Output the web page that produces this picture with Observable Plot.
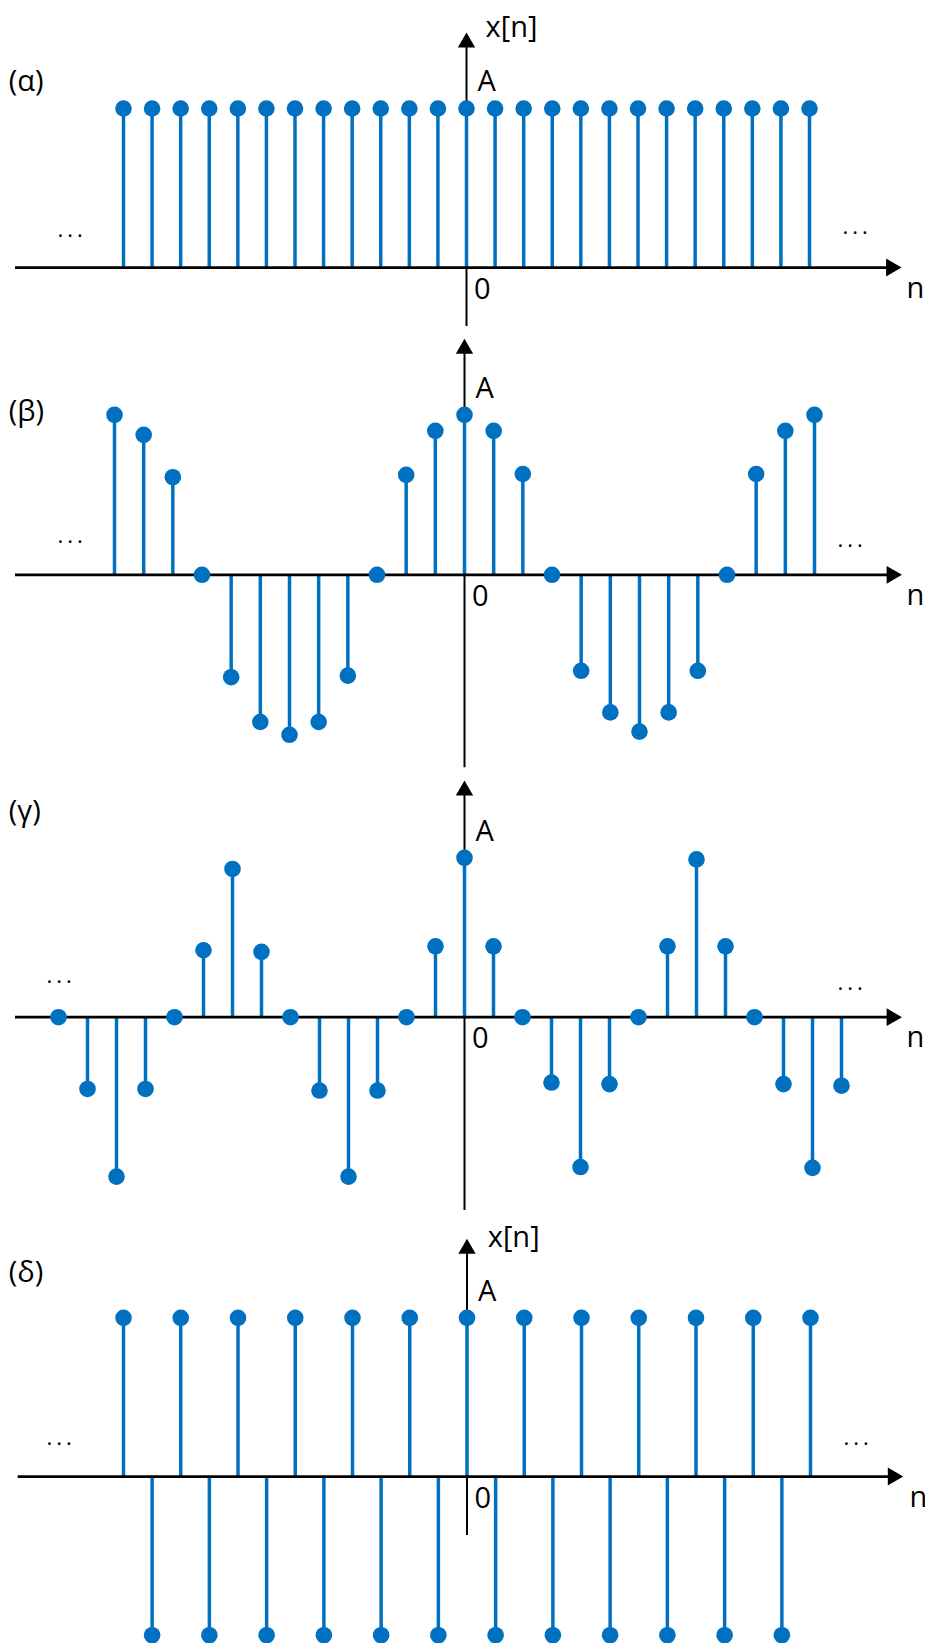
<!DOCTYPE html>
<html>
<head>
<meta charset="utf-8">
<script src="https://cdn.jsdelivr.net/npm/d3@7"></script>
<script src="https://cdn.jsdelivr.net/npm/@observablehq/plot@0.6"></script>
<style>
  html, body { margin: 0; padding: 0; background: #fff; }
  #chart svg { display: block; }
</style>
</head>
<body>
<div id="chart"></div>
<script>
// ---------- data ----------
const panelLabels = ["(α)", "(β)", "(γ)", "(δ)"];
const axisNameN = "n";
const axisNameY = "x[n]";
const zeroLabel = "0";
const ampLabel = "A";
const moreLabel = "...";

// (α) constant sequence x[n] = A
const alphaN = [-12,-11,-10,-9,-8,-7,-6,-5,-4,-3,-2,-1,0,1,2,3,4,5,6,7,8,9,10,11,12];
const alphaX = [1,1,1,1,1,1,1,1,1,1,1,1,1,1,1,1,1,1,1,1,1,1,1,1,1];

// (β) slow oscillation (in units of A)
const betaN = [-12,-11,-10,-9,-8,-7,-6,-5,-4,-3,-2,-1,0,1,2,3,4,5,6,7,8,9,10,11,12];
const betaX = [1.0,0.875,0.61,0,-0.64,-0.92,-1.0,-0.92,-0.63,0,0.625,0.9,1.0,0.9,0.63,0,-0.6,-0.86,-0.98,-0.86,-0.6,0,0.63,0.9,1.0];

// (γ) faster oscillation
const gammaN = [-14,-13,-12,-11,-10,-9,-8,-7,-6,-5,-4,-3,-2,-1,0,1,2,3,4,5,6,7,8,9,10,11,12,13];
const gammaX = [0,-0.45,-1.0,-0.45,0,0.42,0.93,0.41,0,-0.46,-1.0,-0.46,0,0.445,1.0,0.445,0,-0.41,-0.94,-0.42,0,0.445,0.99,0.445,0,-0.42,-0.945,-0.43];

// (δ) alternating sequence
const deltaN = [-12,-11,-10,-9,-8,-7,-6,-5,-4,-3,-2,-1,0,1,2,3,4,5,6,7,8,9,10,11,12];
const deltaX = [1,-1,1,-1,1,-1,1,-1,1,-1,1,-1,1,-1,1,-1,1,-1,1,-1,1,-1,1,-1,1];

// ---------- layout / style ----------
const W = 925;
const BLUE = "#0070C0";
const FONT = "Open Sans";

const panels = [
  {label: panelLabels[0], n: alphaN, x: alphaX, H: 330, xDomain: [-12, 12], xRange: [123, 809], yRange: [267, 108],
   axisLeft: 15, axisTip: 901, yTip: 32, yBottom: 326, labelY: 80.8, showY: true, yLabelDx: 19, yLabelDy: 27,
   dotsL: [57, 229.5], dotsR: [842, 226.5], nDx: -19},
  {label: panelLabels[1], n: betaN, x: betaX, H: 444, xDomain: [-12, 12], xRange: [114, 814], yRange: [244.3, 84.3],
   axisLeft: 15, axisTip: 901.5, yTip: 8.3, yBottom: 437.3, labelY: 81.6, showY: false,
   dotsL: [57, 205.5], dotsR: [837, 209.5], nDx: -19},
  {label: panelLabels[2], n: gammaN, x: gammaX, H: 446, xDomain: [-14, 13], xRange: [58, 841], yRange: [242.7, 83.3],
   axisLeft: 15, axisTip: 901.5, yTip: 6, yBottom: 436, labelY: 37.6, showY: false,
   dotsL: [46, 201], dotsR: [837, 208.8], nDx: -19},
  {label: panelLabels[3], n: deltaN, x: deltaX, H: 423, xDomain: [-12, 12], xRange: [123, 810], yRange: [256, 97.3],
   axisLeft: 17.7, axisTip: 902.7, yTip: 18.3, yBottom: 315, labelY: 52.3, showY: true, yLabelDx: 20.7, yLabelDy: 17.7,
   dotsL: [46, 217.2], dotsR: [843, 217.8], nDx: -16}
];

function drawPanel(p) {
  const data = p.n.map((n, i) => ({n, v: p.x[i]}));
  const stems = data.filter(d => d.v !== 0);
  const txt = {fontFamily: FONT, fontSize: 29, fill: "black", textAnchor: "start", lineAnchor: "middle"};
  const marks = [
    // vertical axis
    Plot.ruleX([0], {insetTop: p.yTip + 8, insetBottom: p.H - p.yBottom, stroke: "black", strokeWidth: 2}),
    Plot.dot([0], {x: d => d, frameAnchor: "top", dy: p.yTip + 10, symbol: "triangle", r: 6.43, fill: "black", stroke: "none"}),
    // stems
    Plot.ruleX(stems, {x: "n", y1: () => 0, y2: "v", stroke: BLUE, strokeWidth: 3.5}),
    // horizontal axis
    Plot.ruleY([0], {insetLeft: p.axisLeft, insetRight: W - p.axisTip + 8, stroke: "black", strokeWidth: 2.75}),
    Plot.dot([0], {y: d => d, frameAnchor: "right", dx: -(W - p.axisTip) - 10.26, symbol: "triangle", r: 6.6, rotate: 90, fill: "black", stroke: "none"}),
    // stem heads
    Plot.dot(data, {x: "n", y: "v", r: 8.3, fill: BLUE, stroke: "none"}),
    // texts
    Plot.text([p.label], {...txt, text: d => d, frameAnchor: "top-left", dx: 8.3, dy: p.labelY}),
    Plot.text([ampLabel], {...txt, text: d => d, x: () => 0, y: () => 1, dx: 11, dy: -26.5}),
    Plot.text([zeroLabel], {...txt, text: d => d, x: () => 0, y: () => 0, dx: 7.5, dy: 22}),
    Plot.text([axisNameN], {...txt, text: d => d, y: () => 0, frameAnchor: "right", dx: p.nDx, dy: 21}),
    Plot.text([moreLabel], {...txt, fontSize: 22, text: d => d, frameAnchor: "top-left", dx: p.dotsL[0], dy: p.dotsL[1]}),
    Plot.text([moreLabel], {...txt, fontSize: 22, text: d => d, frameAnchor: "top-left", dx: p.dotsR[0], dy: p.dotsR[1]})
  ];
  if (p.showY) {
    marks.push(Plot.text([axisNameY], {...txt, text: d => d, x: () => 0, frameAnchor: "top", dx: p.yLabelDx, dy: p.yLabelDy}));
  }
  const svg = Plot.plot({
    width: W,
    height: p.H,
    marginTop: 0, marginRight: 0, marginBottom: 0, marginLeft: 0,
    x: {type: "linear", domain: p.xDomain, range: p.xRange, axis: null},
    y: {type: "linear", domain: [0, 1], range: p.yRange, axis: null},
    style: {background: "white", overflow: "visible"},
    marks
  });
  d3.select(svg).selectAll("text")
    .filter(function () { return this.textContent === moreLabel; })
    .attr("letter-spacing", "4");
  return svg;
}

const root = document.getElementById("chart");
panels.forEach(p => root.appendChild(drawPanel(p)));
</script>
</body>
</html>
